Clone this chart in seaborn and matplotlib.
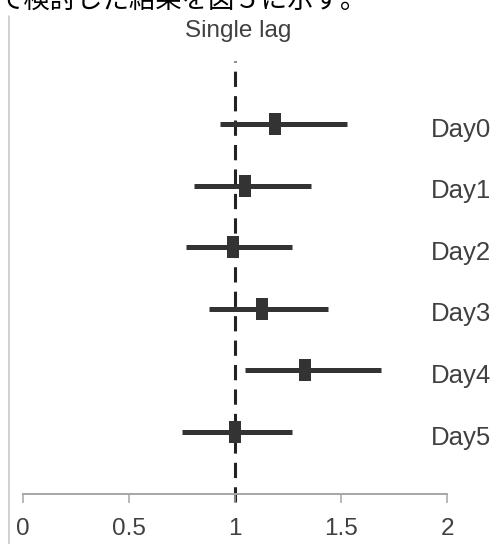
import numpy as np
import pandas as pd
import matplotlib
matplotlib.use("Agg")
import matplotlib.pyplot as plt
import seaborn as sns
from matplotlib.lines import Line2D
from matplotlib.transforms import ScaledTranslation

days = ["Day0", "Day1", "Day2", "Day3", "Day4", "Day5"]
estimate = [1.19, 1.05, 0.99, 1.13, 1.33, 1.00]
lower = [0.93, 0.81, 0.77, 0.88, 1.05, 0.75]
upper = [1.53, 1.36, 1.27, 1.44, 1.69, 1.27]
xticks = [0, 0.5, 1, 1.5, 2]
xticklabels = ["0", "0.5", "1", "1.5", "2"]
title = "Single lag"
caption = "で検討した結果を図５に示す。"

rows = []
for d, lo, est, hi in zip(days, lower, estimate, upper):
    for v in (lo, est, hi):
        rows.append({"day": d, "value": v})
df = pd.DataFrame(rows)

sns.set_theme(style="white")
plt.rcParams["font.family"] = ["Liberation Sans", "Noto Sans CJK JP", "DejaVu Sans"]

W, H = 499, 544
fig = plt.figure(figsize=(W / 100, H / 100), dpi=100)
ax_left, ax_right = 22.5, 447
ax_top, ax_bottom = 61, 494
ax = fig.add_axes([ax_left / W, (H - ax_bottom) / H,
                   (ax_right - ax_left) / W, (ax_bottom - ax_top) / H])

dark = "#333333"
rect = [(-0.55, -1), (0.55, -1), (0.55, 1), (-0.55, 1), (-0.55, -1)]
sns.pointplot(data=df, x="value", y="day", order=days, orient="h",
              estimator="median", errorbar=("pi", 100),
              linestyle="none", marker=rect, markersize=15.8,
              markeredgewidth=0, color=dark,
              err_kws={"linewidth": 3.6, "solid_capstyle": "butt"},
              capsize=0, ax=ax)

ax.axvline(1, ymin=-0.018, ymax=1, color="#222222", lw=2.2,
           linestyle=(0, (5, 3)), clip_on=False, zorder=0)

ax.set_xlim(0, 2)
ax.set_ylim(6.006, -1.023)
ax.set_xticks(xticks)
ax.set_xticklabels(xticklabels)
ax.set_xlabel("")
ax.set_ylabel("")
ax.set_yticks([])

for s in ("left", "top", "right"):
    ax.spines[s].set_visible(False)
ax.spines["bottom"].set_color("#a6a6a6")
ax.spines["bottom"].set_linewidth(1.4)
ax.tick_params(axis="x", direction="out", length=6.5, width=1.1,
               color="#a6a6a6", labelsize=17.5, labelcolor="#404040", pad=10.5,
               bottom=True)

label_tr = ax.get_yaxis_transform() + ScaledTranslation(0, -0.03, fig.dpi_scale_trans)
label_x = (431 - ax_left) / (ax_right - ax_left)
for i, d in enumerate(days):
    ax.text(label_x, i, d, transform=label_tr, ha="left", va="center_baseline",
            fontsize=18.5, color="#404040", clip_on=False)

fig.text(238 / W, 1 - 37 / H, title, ha="center", va="baseline",
         fontsize=17.5, color="#404040")
fig.text(-2 / W, 1 - 8 / H, caption, ha="left", va="baseline",
         fontsize=19, color="black", family=["Noto Sans CJK JP", "DejaVu Sans"])

fig.add_artist(Line2D([9 / W, 9 / W], [0, 1 - 16 / H], color="#c4c4c4", lw=1.1))

fig.savefig("out.png", dpi=100)
